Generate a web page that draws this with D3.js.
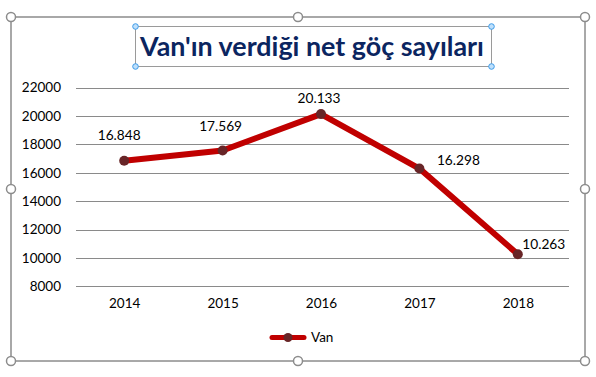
<!DOCTYPE html>
<html>
<head>
<meta charset="utf-8">
<script src="https://cdn.jsdelivr.net/npm/d3@7"></script>
<style>
  html, body { margin: 0; padding: 0; background: #fff; }
  svg text { font-family: Lato, "Open Sans", sans-serif; }
</style>
</head>
<body>
<div id="chart"></div>
<script>
// Chart data
const years = ["2014", "2015", "2016", "2017", "2018"];
const vanValues = [16848, 17569, 20133, 16298, 10263];
const yTicks = [8000, 10000, 12000, 14000, 16000, 18000, 20000, 22000];
const seriesName = "Van";
const titleText = "Van'ın verdiği net göç sayıları";

// label placement relative to each point (layout, not data)
const labelOffsets = [[-5, -26], [-2, -24], [-2, -16], [39, -8], [26, -10]];

const W = 596, H = 377;
const svg = d3.select("#chart").append("svg")
  .attr("width", W).attr("height", H);

const trFormat = d3.formatLocale({ decimal: ",", thousands: ".", grouping: [3], currency: ["", ""] }).format(",");

// Scales
const x = d3.scalePoint().domain(years).range([75, 567]).padding(0.5);
const y = d3.scaleLinear().domain([8000, 22000]).range([286.3, 87.6]);

// Outer frame of chart object
const frame = { x0: 11, y0: 17, x1: 585, y1: 361 };
svg.append("rect")
  .attr("x", frame.x0).attr("y", frame.y0)
  .attr("width", frame.x1 - frame.x0).attr("height", frame.y1 - frame.y0)
  .attr("fill", "#fff").attr("stroke", "#8c8c8c").attr("stroke-width", 1.5);

// Gridlines
svg.append("g")
  .selectAll("line")
  .data(yTicks)
  .enter()
  .append("line")
  .attr("x1", 76).attr("x2", 569)
  .attr("y1", (d) => Math.round(y(d)) + 0.5)
  .attr("y2", (d) => Math.round(y(d)) + 0.5)
  .attr("stroke", "#8a8a8a").attr("stroke-width", 1);

// Y axis labels
const yAxis = d3.axisLeft(y).tickValues(yTicks).tickSize(0).tickPadding(0).tickFormat(d3.format("d"));
const yg = svg.append("g").attr("transform", "translate(61,0)").call(yAxis);
yg.select(".domain").remove();
yg.selectAll("text").attr("font-size", "13.5px").attr("fill", "#000").attr("font-family", "Lato, sans-serif");

// X axis labels
const xAxis = d3.axisBottom(x).tickSize(0).tickPadding(0);
const xg = svg.append("g").attr("transform", "translate(0,298)").call(xAxis);
xg.select(".domain").remove();
xg.selectAll("text").attr("font-size", "13.5px").attr("fill", "#000").attr("font-family", "Lato, sans-serif");

// Line
const line = d3.line()
  .x((d, i) => x(years[i]))
  .y((d) => y(d));

svg.append("path")
  .datum(vanValues)
  .attr("d", line)
  .attr("fill", "none")
  .attr("stroke", "#c00000")
  .attr("stroke-width", 6)
  .attr("stroke-linejoin", "round");

// Markers
svg.append("g")
  .selectAll("circle")
  .data(vanValues)
  .enter()
  .append("circle")
  .attr("cx", (d, i) => x(years[i]))
  .attr("cy", (d) => y(d))
  .attr("r", 5)
  .attr("fill", "#682527");

// Data labels
svg.append("g")
  .selectAll("text")
  .data(vanValues)
  .enter()
  .append("text")
  .attr("x", (d, i) => x(years[i]) + labelOffsets[i][0])
  .attr("y", (d, i) => y(d) + labelOffsets[i][1])
  .attr("dy", "0.35em")
  .attr("text-anchor", "middle")
  .attr("font-size", "13.7px")
  .attr("fill", "#000")
  .text((d) => trFormat(d));

// Legend
const legend = svg.append("g").attr("transform", "translate(270,337.5)");
legend.append("line")
  .attr("x1", 2).attr("x2", 34).attr("y1", 0).attr("y2", 0)
  .attr("stroke", "#c00000").attr("stroke-width", 5).attr("stroke-linecap", "round");
legend.append("circle").attr("cx", 18).attr("cy", 0).attr("r", 4.5).attr("fill", "#682527");
legend.append("text").attr("x", 41).attr("dy", "0.35em")
  .attr("font-size", "13.5px").attr("fill", "#000").text(seriesName);

// Title box with selection handles
const tb = { x0: 135, y0: 26, x1: 491, y1: 66 };
svg.append("rect")
  .attr("x", tb.x0 + 0.5).attr("y", tb.y0 + 0.5)
  .attr("width", tb.x1 - tb.x0).attr("height", tb.y1 - tb.y0)
  .attr("fill", "none").attr("stroke", "#9a9a9a").attr("stroke-width", 1);

const title = svg.append("text")
  .attr("x", 312).attr("y", 56)
  .attr("text-anchor", "middle")
  .attr("font-weight", "bold")
  .attr("font-size", "26px")
  .attr("fill", "#0b2560")
  .text(titleText);
// fit title to the measured width of the reference
const tw = title.node().getComputedTextLength();
title.attr("font-size", (26 * 344 / tw).toFixed(2) + "px");

const blueHandles = [[tb.x0, tb.y0], [tb.x1, tb.y0], [tb.x0, tb.y1], [tb.x1, tb.y1]];
svg.append("g").selectAll("circle").data(blueHandles).enter().append("circle")
  .attr("cx", (d) => d[0] + 0.5).attr("cy", (d) => d[1] + 0.5).attr("r", 2.8)
  .attr("fill", "#bfe0fb").attr("stroke", "#3d9be9").attr("stroke-width", 1);

// Frame handles
const mx = (frame.x0 + frame.x1) / 2, my = (frame.y0 + frame.y1) / 2;
const handles = [
  [frame.x0, frame.y0], [mx, frame.y0], [frame.x1, frame.y0],
  [frame.x0, my], [frame.x1, my],
  [frame.x0, frame.y1], [mx, frame.y1], [frame.x1, frame.y1]
];
svg.append("g").selectAll("circle").data(handles).enter().append("circle")
  .attr("cx", (d) => d[0]).attr("cy", (d) => d[1]).attr("r", 4.5)
  .attr("fill", "#fff").attr("stroke", "#8c8c8c").attr("stroke-width", 1.5);
</script>
</body>
</html>
